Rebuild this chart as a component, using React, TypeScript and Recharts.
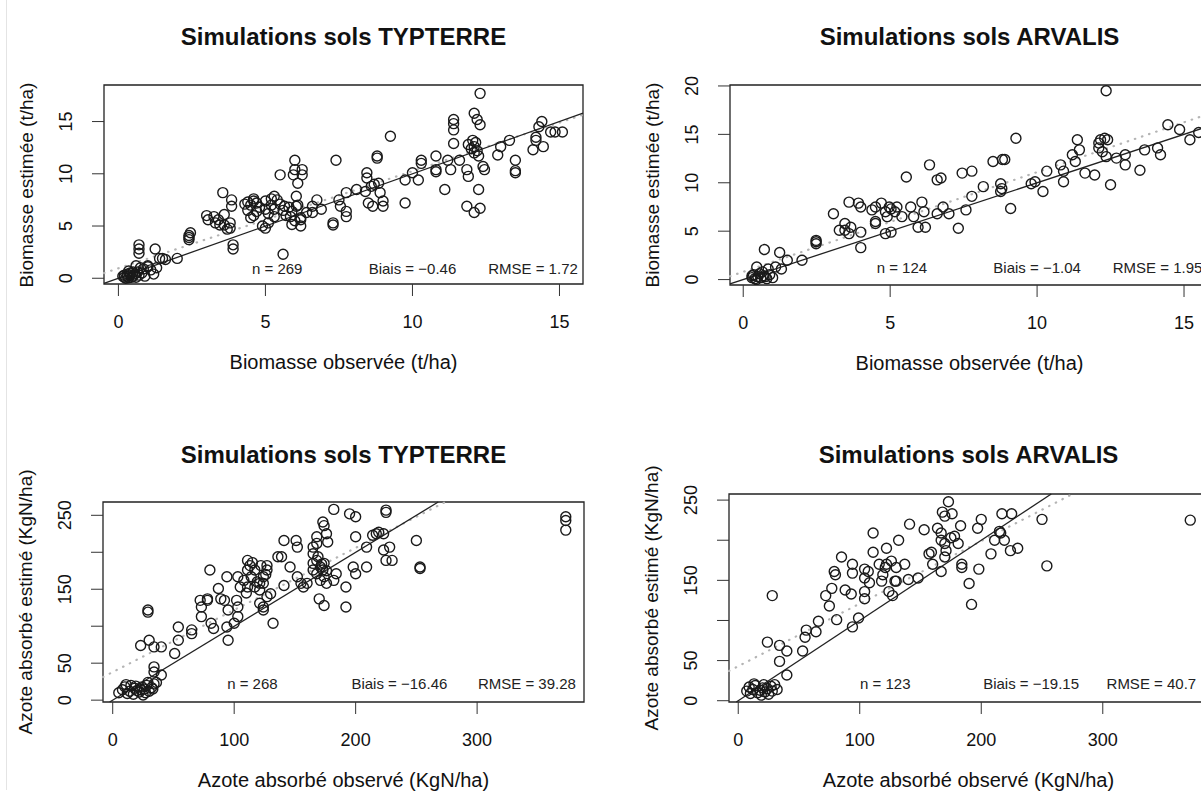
import React from 'react'
import { ScatterChart, Scatter, XAxis, YAxis, ReferenceArea, ReferenceLine, ReferenceDot } from 'recharts'

type Pt = [number, number]

// observé, estimé
const biomasseTypterre: Pt[] = [
  [0.2, 0.1], [0.3, 0.2], [0.35, 0.05], [0.4, 0.3], [0.45, 0.1], [0.5, 0.2], [0.55, 0.4], [0.6, 0.1],
  [0.3, 0.4], [0.25, 0.0], [0.5, 0.6], [0.7, 0.3], [0.65, 0.6], [0.8, 0.5], [0.9, 0.2], [0.75, 1.0],
  [0.6, 1.2], [1.0, 1.1], [1.1, 0.8], [0.4, 0.5], [0.2, 0.3], [0.15, 0.2], [0.35, 0.7], [0.85, 0.9], [1.2, 0.4],
  [0.7, 3.2], [0.7, 2.8], [0.7, 2.4], [1.25, 2.8], [1.4, 1.9], [1.5, 1.9], [1.6, 1.8], [1.0, 1.2], [2.0, 1.9], [1.3, 1.0],
  [2.4, 3.7], [2.4, 4.1], [2.45, 4.35], [2.4, 3.9],
  [3.0, 6.0], [3.05, 5.6], [3.25, 5.9], [3.4, 5.6], [3.45, 5.1], [3.55, 8.2], [3.6, 5.1], [3.7, 4.7], [3.85, 7.5],
  [3.85, 6.9], [3.9, 3.2], [3.9, 2.8], [3.8, 4.8], [3.8, 5.3], [3.3, 5.3], [3.6, 6.1],
  [4.4, 7.3], [4.5, 7.0], [4.6, 7.6], [4.7, 7.2], [4.8, 6.8], [4.6, 6.0], [4.5, 5.8], [5.0, 7.4], [5.2, 7.0],
  [5.3, 6.6], [5.1, 6.2], [4.9, 5.0], [5.0, 4.8], [5.1, 5.3], [5.4, 7.5], [5.5, 7.1], [5.6, 6.5], [5.3, 5.9],
  [5.8, 6.8], [5.9, 6.4], [6.0, 5.5], [6.2, 5.8], [6.1, 7.0], [5.5, 9.9], [5.3, 7.85], [5.65, 6.9], [4.4, 6.5],
  [4.7, 6.4], [5.0, 6.6], [5.2, 7.6], [4.6, 7.4], [5.7, 6.0], [4.3, 7.1],
  [6.0, 11.3], [6.0, 10.4], [5.95, 9.9], [6.25, 10.4], [6.25, 9.9], [6.1, 9.1], [6.05, 7.85], [6.05, 6.9],
  [5.85, 5.9], [5.9, 5.15], [6.2, 5.6], [6.2, 5.0], [6.4, 6.3], [5.6, 2.3],
  [6.6, 6.9], [6.6, 6.3], [6.75, 7.5], [7.3, 5.3], [7.4, 11.3], [7.5, 7.5], [7.55, 6.9], [7.75, 8.2], [7.75, 6.4],
  [7.75, 5.9], [8.1, 8.5], [7.3, 5.1], [6.9, 6.6],
  [8.45, 10.1], [8.45, 9.6], [8.4, 8.3], [8.5, 7.2], [8.65, 6.9], [8.8, 11.7], [8.8, 11.5], [8.85, 9.1], [8.9, 8.2],
  [9.0, 7.4], [9.0, 6.9], [8.6, 8.8], [8.7, 9.0],
  [9.25, 13.6], [9.75, 7.2], [9.75, 9.4], [10.0, 10.1], [10.2, 9.4], [10.3, 11.3], [10.3, 11.0], [10.8, 11.7],
  [10.8, 10.4], [10.8, 10.2], [11.1, 8.5], [11.2, 11.3], [11.3, 10.4],
  [11.4, 15.2], [11.4, 14.8], [11.4, 14.2], [11.4, 12.9], [11.6, 11.3], [11.85, 10.4], [11.9, 9.75], [11.85, 6.9],
  [12.05, 13.2], [12.1, 12.6], [12.1, 12.0], [12.1, 15.8], [12.2, 15.2], [12.3, 14.7], [12.3, 17.7], [12.1, 6.3],
  [12.3, 6.7], [12.25, 8.5], [12.4, 10.7], [12.45, 10.4], [12.0, 12.4], [12.2, 12.2], [12.15, 13.0], [11.9, 12.8], [12.25, 11.7],
  [12.9, 11.8], [13.0, 12.6], [13.3, 13.2], [13.5, 11.3], [13.5, 10.1], [13.5, 10.3], [14.1, 12.3], [14.2, 13.2],
  [14.3, 14.5], [14.4, 15.0], [14.45, 12.6], [14.7, 14.0], [15.1, 14.0], [14.85, 14.0], [14.2, 13.5],
]

const biomasseArvalis: Pt[] = [
  [0.3, 0.2], [0.4, 0.1], [0.5, 0.3], [0.6, 0.2], [0.7, 0.4], [0.8, 0.1], [0.35, 0.5], [0.45, 0.0], [0.55, 0.6],
  [0.9, 0.5], [0.65, 0.8], [0.75, 0.3], [0.3, 0.4], [1.0, 0.2], [0.46, 1.3], [0.72, 3.1], [1.24, 2.8], [1.3, 1.1],
  [1.5, 2.0], [1.1, 1.3], [2.0, 2.0], [0.85, 1.1],
  [2.48, 3.9], [2.48, 3.7], [2.48, 4.05],
  [3.07, 6.8], [3.27, 5.1], [3.46, 5.8], [3.46, 5.1], [3.6, 4.75], [3.66, 5.4], [3.6, 8.0], [3.92, 7.9], [4.0, 7.5],
  [4.0, 4.9], [4.0, 3.3], [4.38, 7.2], [4.5, 7.5], [4.7, 7.9], [4.5, 6.0], [4.5, 5.8], [4.84, 7.0], [4.9, 6.5],
  [4.97, 7.5], [5.03, 7.3], [4.84, 4.75], [5.03, 4.9], [5.16, 7.0], [5.23, 7.5], [5.4, 6.5], [5.55, 10.6],
  [5.7, 7.5], [5.8, 6.5], [5.95, 5.4], [6.08, 8.0], [6.15, 7.0], [6.2, 5.4], [6.34, 11.85], [6.6, 10.3], [6.73, 10.5],
  [6.6, 6.8], [6.8, 7.5], [7.0, 6.8], [7.32, 5.3], [7.45, 11.0], [7.78, 11.2], [7.58, 7.2], [7.78, 8.6], [8.17, 9.6],
  [8.5, 12.2], [8.82, 12.4], [8.9, 12.4], [8.76, 9.9], [8.8, 9.4], [8.76, 9.1], [9.1, 7.35], [9.28, 14.6],
  [9.8, 9.9], [9.93, 10.1], [10.2, 9.1], [10.33, 11.2], [10.8, 11.85], [10.9, 10.1], [10.9, 11.2],
  [11.2, 12.9], [11.3, 12.2], [11.37, 14.45], [11.44, 13.4], [11.63, 11.0], [11.96, 10.8],
  [12.1, 14.1], [12.1, 13.6], [12.16, 14.45], [12.3, 14.6], [12.22, 13.2], [12.35, 12.7], [12.35, 19.5], [12.4, 14.45],
  [12.5, 9.8], [12.7, 12.55], [13.0, 12.9], [13.0, 11.85], [13.5, 11.3], [13.66, 13.4], [14.1, 13.6], [14.2, 12.9],
  [14.45, 16.0], [14.85, 15.5], [15.2, 14.45], [15.5, 15.2],
]

const azoteTypterre: Pt[] = [
  [5, 10], [8, 14], [10, 18], [12, 9], [14, 12], [15, 20], [17, 8], [18, 16], [20, 13], [22, 11], [24, 18], [25, 7],
  [26, 15], [28, 20], [30, 12], [32, 17], [34, 22], [11, 21], [19, 19], [23, 14], [27, 10], [29, 24], [33, 15], [36, 24],
  [23, 74], [30, 81], [34, 72], [40, 72], [29, 122], [29, 119], [34, 45], [34, 38], [40, 34],
  [51, 63], [54, 99], [54, 81], [65, 95], [65, 90], [72, 135], [73, 126], [73, 113], [78, 137], [78, 135], [80, 176],
  [81, 104], [83, 97], [87, 151], [89, 137], [92, 135], [94, 167], [95, 122], [94, 99], [95, 81], [100, 104],
  [102, 135], [103, 126], [103, 113], [103, 167], [105, 153], [108, 162], [111, 153], [111, 189], [113, 182], [111, 176],
  [114, 167], [117, 176], [121, 158], [124, 167], [122, 182], [127, 182], [127, 176], [117, 153], [121, 149], [124, 158],
  [121, 131], [124, 126], [124, 122], [127, 140], [130, 144], [132, 104], [119, 160], [126, 170], [115, 186], [110, 145],
  [136, 194], [139, 194], [141, 216], [141, 155], [146, 180], [151, 216], [152, 207], [152, 167], [155, 158],
  [157, 153], [160, 158], [165, 198], [165, 207], [168, 221], [168, 212], [165, 185], [165, 176], [168, 171],
  [168, 189], [171, 180], [173, 176], [174, 185], [171, 162], [174, 167], [176, 158], [170, 137], [174, 128],
  [173, 241], [174, 236], [176, 225], [177, 214], [182, 258], [184, 171], [182, 162], [169, 194], [172, 184], [176, 175],
  [192, 153], [192, 126], [195, 252], [200, 248], [200, 221], [198, 180], [200, 171], [209, 207], [209, 180],
  [214, 223], [217, 225], [219, 227], [225, 257], [225, 254], [223, 225], [223, 203], [225, 189], [228, 207], [230, 189],
  [250, 216], [253, 180], [253, 178],
  [373, 248], [373, 243], [373, 230],
]

const azoteArvalis: Pt[] = [
  [7, 12], [9, 17], [10, 9], [12, 14], [14, 19], [16, 10], [18, 13], [19, 7], [20, 16], [22, 11], [24, 15], [25, 8],
  [27, 18], [28, 12], [30, 20], [32, 14], [13, 21], [21, 20],
  [24, 73], [28, 131], [34, 69], [34, 49], [40, 62], [40, 32], [53, 62], [55, 79], [56, 88], [64, 86], [66, 99],
  [72, 131], [75, 118], [77, 140], [79, 161], [80, 157], [81, 101], [85, 179], [88, 138], [93, 133], [94, 170],
  [94, 159], [94, 92], [99, 103], [104, 153], [104, 136], [104, 127], [104, 164], [107, 161], [108, 147], [111, 185],
  [111, 209], [116, 170], [118, 149], [119, 157], [121, 166], [122, 170], [122, 190], [124, 136], [127, 131], [129, 149],
  [130, 149], [126, 174], [130, 166], [132, 200], [137, 170], [140, 151], [141, 220], [148, 153], [153, 213],
  [157, 183], [159, 185], [160, 170], [164, 215], [167, 209], [168, 235], [170, 230], [167, 200], [170, 196],
  [171, 187], [167, 161], [170, 179], [173, 248], [176, 233], [175, 203], [178, 205], [181, 196], [183, 218],
  [184, 170], [184, 166], [190, 146], [192, 120], [197, 215], [198, 164], [200, 226], [208, 183], [211, 200],
  [215, 211], [216, 209], [217, 233], [219, 200], [224, 187], [225, 233], [230, 190], [250, 226], [254, 168],
  [372, 225],
]

const biomasseTicks = [0, 5, 10, 15]
const biomasseArvalisYTicks = [0, 5, 10, 15, 20]
const azoteTicks = [0, 100, 200, 300]
const azoteYTicks = [0, 50, 100, 150, 200, 250]
const azoteYLabels = [0, 50, 150, 250]

// ordonnée à l'origine, pente de la droite de régression
const regBiomasseTypterre = [0.95, 0.93]
const regBiomasseArvalis = [0.8, 1.03]
const regAzoteTypterre = [38, 0.84]
const regAzoteArvalis = [43, 0.78]

const statsBiomasseTypterre = ['n = 269', 'Biais = −0.46', 'RMSE = 1.72']
const statsBiomasseArvalis = ['n = 124', 'Biais = −1.04', 'RMSE = 1.95']
const statsAzoteTypterre = ['n = 268', 'Biais = −16.46', 'RMSE = 39.28']
const statsAzoteArvalis = ['n = 123', 'Biais = −19.15', 'RMSE = 40.7']

const FONT = '"Liberation Sans", Arial, Helvetica, sans-serif'

type Box = { left: number; top: number; right: number; bottom: number }

type PanelProps = {
  left: number
  top: number
  width: number
  height: number
  box: Box
  title: string
  titleY: number
  xLabel: string
  yLabel: string
  points: Pt[]
  xDomain: [number, number]
  yDomain: [number, number]
  xTicks: number[]
  yTicks: number[]
  yLabels?: number[]
  reg: number[]
  stats: string[]
  statsX: number[]
  statsY: number
}

function clipLine(a: number, b: number, xd: number[], yd: number[]) {
  let x1 = xd[0]
  let y1 = a + b * x1
  if (y1 < yd[0]) { x1 = (yd[0] - a) / b; y1 = yd[0] }
  let x2 = xd[1]
  let y2 = a + b * x2
  if (y2 > yd[1]) { x2 = (yd[1] - a) / b; y2 = yd[1] }
  return [{ x: x1, y: y1 }, { x: x2, y: y2 }]
}

function Panel(p: PanelProps) {
  const data = p.points.map(([x, y]) => ({ x, y }))
  const lo = Math.max(p.xDomain[0], p.yDomain[0])
  const hi = Math.min(p.xDomain[1], p.yDomain[1])
  const labels = p.yLabels ?? p.yTicks
  const cx = (p.box.left + p.box.right) / 2
  const cy = (p.box.top + p.box.bottom) / 2

  const xTick = (t: any) => (
    <text x={t.x} y={t.y + 26} textAnchor="middle" dominantBaseline="central" fontSize={18} fill="#111" fontFamily={FONT}>
      {t.payload.value}
    </text>
  )
  const yTick = (t: any) => {
    const v = t.payload.value
    if (!labels.includes(v)) return <g />
    const tx = t.x - 26
    return (
      <text x={tx} y={t.y} transform={`rotate(-90 ${tx} ${t.y})`} textAnchor="middle" dominantBaseline="central" fontSize={18} fill="#111" fontFamily={FONT}>
        {v}
      </text>
    )
  }

  return (
    <div style={{ position: 'absolute', left: p.left, top: p.top, width: p.width, height: p.height }}>
      <ScatterChart
        width={p.width}
        height={p.height}
        margin={{ top: p.box.top, right: p.width - p.box.right, bottom: 0, left: 0 }}
      >
        <XAxis
          type="number"
          dataKey="x"
          domain={p.xDomain}
          ticks={p.xTicks}
          interval={0}
          allowDataOverflow
          axisLine={false}
          tickSize={12}
          tickMargin={0}
          tickLine={{ stroke: '#333' }}
          tick={xTick}
          height={p.height - p.box.bottom}
        />
        <YAxis
          type="number"
          dataKey="y"
          domain={p.yDomain}
          ticks={p.yTicks}
          interval={0}
          allowDataOverflow
          axisLine={false}
          tickSize={12}
          tickMargin={0}
          tickLine={{ stroke: '#333' }}
          tick={yTick}
          width={p.box.left}
        />
        <ReferenceArea
          x1={p.xDomain[0]}
          x2={p.xDomain[1]}
          y1={p.yDomain[0]}
          y2={p.yDomain[1]}
          fill="none"
          stroke="#222"
          strokeWidth={1.3}
          ifOverflow="visible"
        />
        <ReferenceLine
          segment={clipLine(p.reg[0], p.reg[1], p.xDomain, p.yDomain)}
          stroke="#b4b4b4"
          strokeWidth={2.2}
          strokeDasharray="0.5 7"
          strokeLinecap="round"
          ifOverflow="visible"
        />
        <ReferenceLine
          segment={[{ x: lo, y: lo }, { x: hi, y: hi }]}
          stroke="#222"
          strokeWidth={1.3}
          ifOverflow="visible"
        />
        <Scatter
          data={data}
          isAnimationActive={false}
          shape={(s: any) => (
            <circle cx={s.cx} cy={s.cy} r={5} fill="none" stroke="#1a1a1a" strokeWidth={1.4} />
          )}
        />
        {p.stats.map((s, i) => (
          <ReferenceDot
            key={s}
            x={p.statsX[i]}
            y={p.statsY}
            r={0}
            ifOverflow="visible"
            shape={(d: any) => (
              <text x={d.cx} y={d.cy} textAnchor="middle" dominantBaseline="central" fontSize={15} fill="#222" fontFamily={FONT}>
                {s}
              </text>
            )}
          />
        ))}
      </ScatterChart>
      <div style={{ position: 'absolute', left: cx, top: p.titleY, transform: 'translate(-50%, -50%)', whiteSpace: 'nowrap', fontWeight: 'bold', fontSize: 24, lineHeight: 1 }}>
        {p.title}
      </div>
      <div style={{ position: 'absolute', left: cx, top: p.box.bottom + 78, transform: 'translate(-50%, -50%)', whiteSpace: 'nowrap', fontSize: 20, lineHeight: 1 }}>
        {p.xLabel}
      </div>
      <div style={{ position: 'absolute', left: p.box.left - 78, top: cy, transform: 'translate(-50%, -50%) rotate(-90deg)', whiteSpace: 'nowrap', fontSize: 19, lineHeight: 1 }}>
        {p.yLabel}
      </div>
    </div>
  )
}

export default function App() {
  return (
    <div style={{ position: 'absolute', left: 0, top: 0, width: 1201, height: 812, overflow: 'hidden', background: '#fff', fontFamily: FONT, color: '#111' }}>
      <div style={{ position: 'absolute', left: 6, top: 0, width: 1, height: 790, background: '#e4e4e4' }} />
      <Panel
        left={0} top={0} width={600} height={406}
        box={{ left: 104, top: 85, right: 583, bottom: 284 }}
        title="Simulations sols TYPTERRE" titleY={37}
        xLabel="Biomasse observée (t/ha)" yLabel="Biomasse estimée (t/ha)"
        points={biomasseTypterre}
        xDomain={[-0.49, 15.8]} yDomain={[-0.55, 18.5]}
        xTicks={biomasseTicks} yTicks={biomasseTicks}
        reg={regBiomasseTypterre}
        stats={statsBiomasseTypterre} statsX={[5.4, 10.0, 14.1]} statsY={0.9}
      />
      <Panel
        left={600} top={0} width={620} height={406}
        box={{ left: 130, top: 85, right: 609, bottom: 285 }}
        title="Simulations sols ARVALIS" titleY={37}
        xLabel="Biomasse observée (t/ha)" yLabel="Biomasse estimée (t/ha)"
        points={biomasseArvalis}
        xDomain={[-0.45, 15.85]} yDomain={[-0.56, 20.1]}
        xTicks={biomasseTicks} yTicks={biomasseArvalisYTicks}
        reg={regBiomasseArvalis}
        stats={statsBiomasseArvalis} statsX={[5.4, 10.0, 14.1]} statsY={1.2}
      />
      <Panel
        left={0} top={406} width={600} height={406}
        box={{ left: 103, top: 96, right: 584, bottom: 296 }}
        title="Simulations sols TYPTERRE" titleY={49}
        xLabel="Azote absorbé observé (KgN/ha)" yLabel="Azote absorbé estimé (KgN/ha)"
        points={azoteTypterre}
        xDomain={[-8, 388]} yDomain={[-2.5, 268]}
        xTicks={azoteTicks} yTicks={azoteYTicks} yLabels={azoteYLabels}
        reg={regAzoteTypterre}
        stats={statsAzoteTypterre} statsX={[115, 236, 341]} statsY={22}
      />
      <Panel
        left={600} top={406} width={620} height={406}
        box={{ left: 129, top: 88, right: 608, bottom: 296 }}
        title="Simulations sols ARVALIS" titleY={49}
        xLabel="Azote absorbé observé (KgN/ha)" yLabel="Azote absorbé estimé (KgN/ha)"
        points={azoteArvalis}
        xDomain={[-7.6, 386.6]} yDomain={[-1.6, 257.6]}
        xTicks={azoteTicks} yTicks={azoteYTicks} yLabels={azoteYLabels}
        reg={regAzoteArvalis}
        stats={statsAzoteArvalis} statsX={[121, 241, 340]} statsY={22}
      />
    </div>
  )
}
